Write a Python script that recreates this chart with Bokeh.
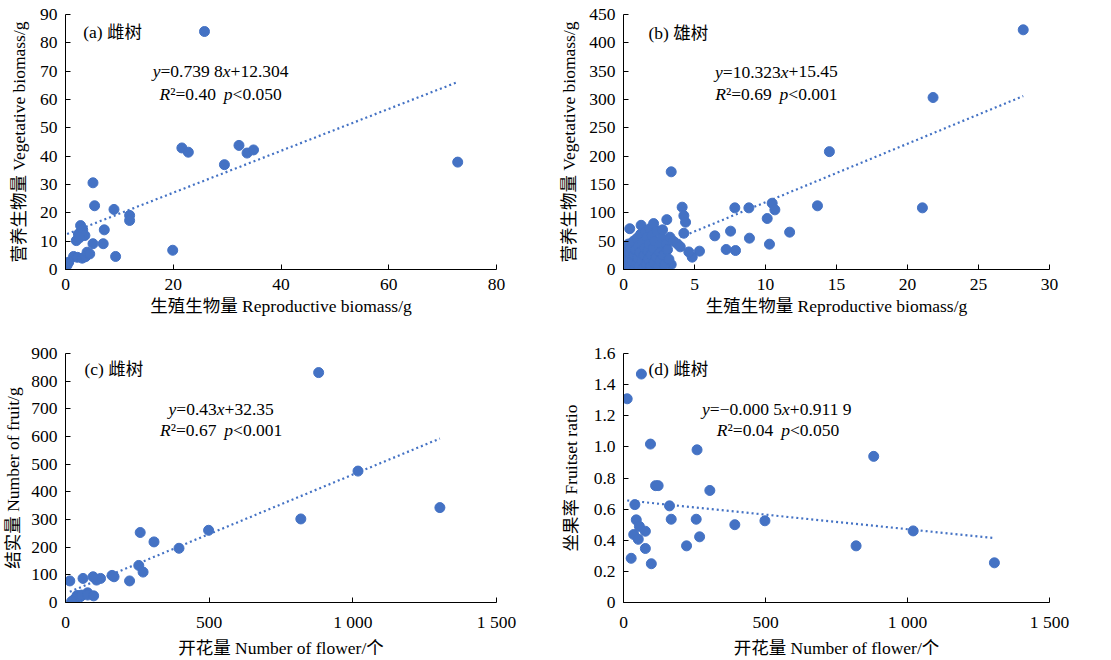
from bokeh.plotting import figure
from bokeh.layouts import column, row
from bokeh.models import Range1d, FixedTicker, Label
from bokeh.embed import file_html
from bokeh.resources import INLINE
import numpy as np

# ---------------- data ----------------
# (a) female trees: reproductive vs vegetative biomass (g)
a_x = [0.3, 0.6, 1.5, 2.2, 3.1, 3.7, 4.0, 4.5, 2.0, 2.4, 3.1, 2.8, 3.2, 3.6, 2.6,
       5.1, 7.0, 7.2, 9.3, 5.1, 5.4, 9.0, 11.9, 11.9, 19.9, 21.6, 22.8, 25.8,
       29.5, 32.2, 33.7, 34.9, 72.8]
a_y = [1.5, 2.6, 4.6, 4.3, 4.0, 4.5, 6.1, 5.5, 10.2, 12.5, 12.6, 15.5, 14.0, 12.0, 11.2,
       9.1, 9.1, 14.0, 4.6, 30.6, 22.5, 21.2, 19.1, 17.3, 6.8, 42.9, 41.4, 84.0,
       37.0, 43.8, 41.1, 42.2, 37.9]
a_fit = [0.7398, 12.304]

# (b) male trees
b_x = [28.15, 21.8, 21.05, 14.5, 13.66, 11.7, 10.47, 10.66, 10.12, 10.28, 8.83, 8.87,
       7.84, 7.54, 7.23, 7.89, 6.43, 5.35, 4.84, 3.36, 4.13, 4.25, 4.37, 4.25, 3.36,
       0.1, 0.15, 0.2, 0.25, 0.3, 0.35, 0.4, 0.45, 0.5, 0.55, 0.6, 0.44,
       0.7, 0.75, 0.8, 0.85, 0.9, 0.95, 1.0, 1.05, 1.1, 1.15, 1.2, 1.24,
       1.3, 1.35, 1.4, 1.45, 1.5, 1.55, 1.6, 1.65, 1.7, 1.75, 1.8, 1.85, 1.9, 1.95, 2.0,
       2.1, 2.12, 2.15, 2.2, 2.3, 2.35, 2.4, 2.5, 2.55, 2.6, 2.7, 2.8, 2.9, 3.0, 3.05,
       3.1, 3.27, 2.75, 3.2, 3.5, 3.8, 4.0, 4.6]
b_y = [423, 303.5, 108.8, 208, 112.4, 65.9, 117, 105.3, 90, 44.7, 108.8, 55.3,
       108.8, 67.7, 35.3, 33.5, 59.4, 32.4, 21.8, 172.4, 110, 95, 83.5, 64, 8.8,
       3, 12, 22, 33, 8, 45, 18, 28, 5, 38, 14, 72,
       50, 25, 2, 35, 10, 55, 20, 42, 6, 30, 62, 78,
       15, 48, 3, 25, 38, 66, 9, 56, 32, 18, 45, 72, 5, 26, 60,
       38, 81, 12, 50, 22, 68, 3, 42, 30, 15, 55, 25, 8, 45, 88,
       35, 57, 70, 18, 50, 45, 40, 31]
b_fit = [10.323, 15.45]

# (c) female trees: flowers vs fruits
c_x = [881, 1018, 1303, 819, 498, 395, 260, 308, 255, 270, 223, 169, 162, 122, 108,
       96, 61, 15, 27, 36, 40, 45, 52, 56, 77, 77, 98, 21]
c_y = [831, 475, 343, 302, 261, 196, 253, 219, 134, 110, 78, 93, 98, 87, 81,
       93, 87, 78, 8, 16, 25, 24, 21, 27, 35, 27, 24, 3]
c_fit = [0.43, 32.35]

# (d) female trees: flowers vs fruit-set ratio
d_x = [63, 13, 95, 259, 881, 113, 122, 304, 40, 162, 168, 256, 45, 392, 498, 1020,
       56, 77, 36, 52, 268, 77, 222, 819, 27, 98, 1306]
d_y = [1.468, 1.309, 1.018, 0.981, 0.939, 0.751, 0.751, 0.720, 0.629, 0.621, 0.535,
       0.535, 0.531, 0.500, 0.525, 0.460, 0.489, 0.458, 0.437, 0.406, 0.422, 0.347,
       0.364, 0.364, 0.284, 0.249, 0.255]
d_fit_drawn = [-0.000187, 0.658]

BLUE = "#4472C4"
FONT = "Liberation Serif, Noto Sans CJK SC"

W_N = {'.': 0.25, ' ': 0.25, '=': 0.564, '+': 0.564, '<': 0.564, '\u2212': 0.564,
       '\u00b2': 0.3, 'R': 0.667, 'y': 0.5, 'x': 0.5, 'p': 0.5}
W_I = {'y': 0.444, 'x': 0.444, 'R': 0.611, 'p': 0.5}


def width_of(t, italic):
    tot = 0.0
    for ch in t:
        if ch.isdigit():
            tot += 0.5
        elif italic:
            tot += W_I.get(ch, 0.5)
        else:
            tot += W_N.get(ch, 0.5)
    return tot


def rich(p, x, y, segs, size=17.5):
    widths = [width_of(t, it) * size for t, it in segs]
    off = -sum(widths) / 2
    for (t, it), w in zip(segs, widths):
        if t.strip():
            p.add_layout(Label(x=x, y=y, text=t, x_offset=off, text_align="left",
                               text_baseline="middle", text_font=FONT,
                               text_font_size=f"{size}px",
                               text_font_style="italic" if it else "normal",
                               text_color="black"))
        off += w


def make(w, h, bl, br, bt, bb, xr, yr, xt, yt, xlab, ylab, ylab_sd,
         xover=None, yover=None):
    p = figure(width=w, height=h, output_backend="svg", toolbar_location=None,
               x_range=Range1d(*xr), y_range=Range1d(*yr),
               min_border_left=bl, min_border_right=br,
               min_border_top=bt, min_border_bottom=bb)
    p.outline_line_color = None
    p.grid.visible = False
    for ax in (p.xaxis[0], p.yaxis[0]):
        ax.axis_line_color = "black"
        ax.axis_line_width = 1
        ax.major_tick_line_color = "black"
        ax.major_tick_in = 5
        ax.major_tick_out = 0
        ax.minor_tick_line_color = None
        ax.major_label_text_font = FONT
        ax.major_label_text_font_size = "17.5px"
        ax.major_label_text_color = "black"
        ax.axis_label_text_font = FONT
        ax.axis_label_text_font_size = "17.5px"
        ax.axis_label_text_font_style = "normal"
        ax.axis_label_text_color = "black"
    p.xaxis[0].ticker = FixedTicker(ticks=xt)
    p.yaxis[0].ticker = FixedTicker(ticks=yt)
    if xover:
        p.xaxis[0].major_label_overrides = xover
    if yover:
        p.yaxis[0].major_label_overrides = yover
    p.xaxis[0].axis_label = xlab
    p.yaxis[0].axis_label = ylab
    p.xaxis[0].major_label_standoff = 9
    p.xaxis[0].axis_label_standoff = 3
    p.yaxis[0].major_label_standoff = 8
    p.yaxis[0].axis_label_standoff = ylab_sd
    return p


def scatter_fit(p, xs, ys, slope, icpt):
    xs_a = np.array(xs, dtype=float)
    lx = np.array([xs_a.min(), xs_a.max()])
    p.line(lx, slope * lx + icpt, line_color=BLUE, line_width=2.2, line_dash="2 3")
    p.scatter(xs, ys, size=10, fill_color=BLUE, line_color=BLUE, marker="circle")


def title(p, x, y, t):
    p.add_layout(Label(x=x, y=y, text=t, text_align="left", text_baseline="middle",
                       text_font=FONT, text_font_size="17.5px", text_color="black"))


# (a)
pa = make(555, 330, 65, 59, 14, 61, (0, 80), (0, 90), [0, 20, 40, 60, 80],
          list(range(0, 91, 10)), "生殖生物量 Reproductive biomass/g",
          "营养生物量 Vegetative biomass/g", 8)
scatter_fit(pa, a_x, a_y, *a_fit)
title(pa, 3.3, 83.7, "(a) 雌树")
rich(pa, 28.8, 69.9, [("y", True), ("=0.739 8", False), ("x", True), ("+12.304", False)])
rich(pa, 28.8, 62.1, [("R", True), ("\u00b2=0.40", False), (" ", False), ("p", True), ("<0.050", False)])

# (b)
pb = make(556, 330, 68, 62, 14, 61, (0, 30), (0, 450), [0, 5, 10, 15, 20, 25, 30],
          list(range(0, 451, 50)), "生殖生物量 Reproductive biomass/g",
          "营养生物量 Vegetative biomass/g", 7)
scatter_fit(pb, b_x, b_y, *b_fit)
title(pb, 1.76, 418, "(b) 雄树")
rich(pb, 10.77, 349.4, [("y", True), ("=10.323", False), ("x", True), ("+15.45", False)])
rich(pb, 10.77, 310, [("R", True), ("\u00b2=0.69", False), (" ", False), ("p", True), ("<0.001", False)])

# (c)
xover_flw = {0: "0", 500: "500", 1000: "1 000", 1500: "1 500"}
pc = make(555, 330, 64, 59, 23, 52, (0, 1500), (0, 900), [0, 500, 1000, 1500],
          list(range(0, 901, 100)), "开花量 Number of flower/个",
          "结实量 Number of fruit/g", 5, xover=xover_flw)
scatter_fit(pc, c_x, c_y, *c_fit)
title(pc, 66, 843.6, "(c) 雌树")
rich(pc, 541.7, 699, [("y", True), ("=0.43", False), ("x", True), ("+32.35", False)])
rich(pc, 541.7, 622, [("R", True), ("\u00b2=0.67", False), (" ", False), ("p", True), ("<0.001", False)])

# (d)
d_ticks = [0, 0.2, 0.4, 0.6, 0.8, 1.0, 1.2, 1.4, 1.6]
d_over = {0: "0", 0.2: "0.2", 0.4: "0.4", 0.6: "0.6", 0.8: "0.8", 1.0: "1.0",
          1.2: "1.2", 1.4: "1.4", 1.6: "1.6"}
pd_ = make(556, 330, 68, 62, 23, 52, (0, 1500), (0, 1.6), [0, 500, 1000, 1500],
           d_ticks, "开花量 Number of flower/个", "坐果率 Fruitset ratio", 10,
           xover=xover_flw, yover=d_over)
scatter_fit(pd_, d_x, d_y, *d_fit_drawn)
title(pd_, 88, 1.5, "(d) 雌树")
rich(pd_, 541, 1.242, [("y", True), ("=\u22120.000 5", False), ("x", True), ("+0.911 9", False)])
rich(pd_, 544, 1.106, [("R", True), ("\u00b2=0.04", False), (" ", False), ("p", True), ("<0.050", False)])

layout = column(row(pa, pb), row(pc, pd_))
open("out.html", "w").write(file_html(layout, INLINE))
